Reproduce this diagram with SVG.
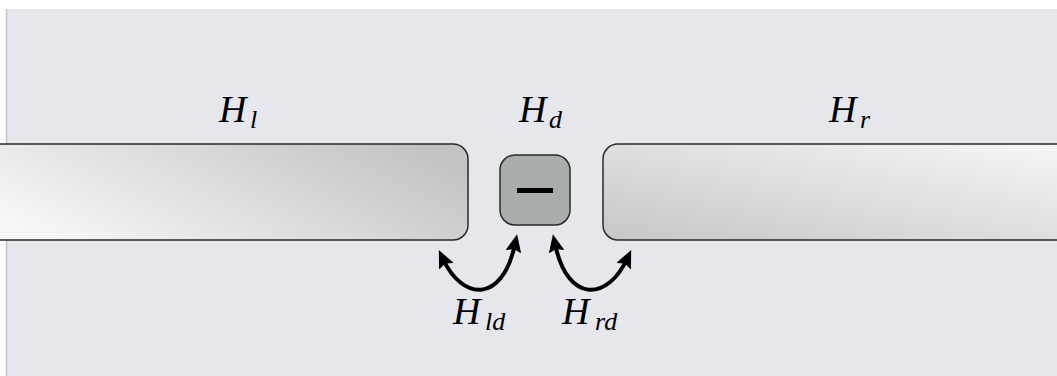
<svg xmlns="http://www.w3.org/2000/svg" width="1057" height="376" viewBox="0 0 1057 376">
  <defs>
    <linearGradient id="gl" x1="0" y1="0.7" x2="1" y2="0.3">
      <stop offset="0" stop-color="#f6f6f6"/>
      <stop offset="1" stop-color="#c3c3c3"/>
    </linearGradient>
    <linearGradient id="gr" x1="1" y1="0" x2="0" y2="1">
      <stop offset="0" stop-color="#f6f6f6"/>
      <stop offset="1" stop-color="#c6c6c6"/>
    </linearGradient>
    <marker id="ah" viewBox="0 0 18 16" refX="8" refY="8" markerWidth="18" markerHeight="16" markerUnits="userSpaceOnUse" orient="auto-start-reverse">
      <path d="M0,0 L18,8 L0,16 L3,8 Z" fill="#000"/>
    </marker>
  </defs>
  <rect x="0" y="0" width="1057" height="376" fill="#ffffff"/>
  <rect x="6" y="9" width="1051" height="367" fill="#e6e7ec"/>
  <line x1="6.5" y1="9" x2="6.5" y2="376" stroke="#c4c4c4" stroke-width="1.5"/>

  <g font-family="Liberation Serif" font-style="italic" font-size="38" fill="#000">
  <g id="node-Hl">
    <path fill="url(#gl)" stroke="#2a2a2a" stroke-width="1.5" d="M -2,144 H 453 A 15,15 0 0 1 468,159 V 225 A 15,15 0 0 1 453,240 H -2 Z"/>
    <text x="219" y="122">H<tspan font-size="26" x="250" y="128">l</tspan></text>
  </g>
  <g id="node-Hd">
    <rect x="500" y="155" width="70" height="70" rx="15" ry="15" fill="#a8acaa" stroke="#2a2a2a" stroke-width="1.5"/>
    <rect x="517" y="188" width="36" height="5" fill="#000"/>
    <text x="519" y="122">H<tspan font-size="26" x="549" y="128">d</tspan></text>
  </g>
  <g id="node-Hr">
    <path fill="url(#gr)" stroke="#2a2a2a" stroke-width="1.5" d="M 1059,144 H 618 A 15,15 0 0 0 603,159 V 225 A 15,15 0 0 0 618,240 H 1059 Z"/>
    <text x="829" y="122">H<tspan font-size="26" x="860" y="128">r</tspan></text>
  </g>

  <g id="connectors">
    <g fill="none" stroke="#000" stroke-width="4" marker-start="url(#ah)" marker-end="url(#ah)">
      <path d="M 443,259 C 462,300 502,305 515,244"/>
      <path d="M 627,259 C 608,300 568,305 555,244"/>
    </g>
    <text x="453" y="324">H<tspan font-size="26" x="485" y="330">ld</tspan></text>
    <text x="562" y="324">H<tspan font-size="26" x="595" y="330">rd</tspan></text>
  </g>
  </g>
</svg>
